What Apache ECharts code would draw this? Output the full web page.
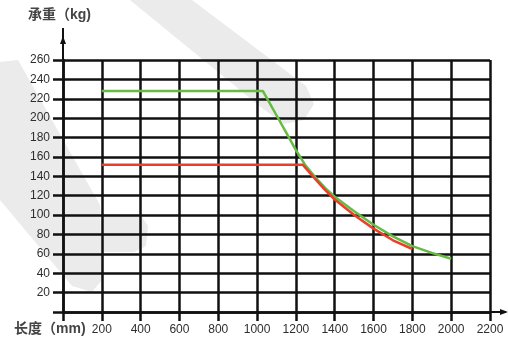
<!DOCTYPE html>
<html>
<head>
<meta charset="utf-8">
<script src="https://cdn.jsdelivr.net/npm/echarts@6/dist/echarts.min.js"></script>
<style>
  html, body { margin: 0; padding: 0; background: #ffffff; }
  #chart { width: 508px; height: 342px; }
</style>
</head>
<body>
<div id="chart"></div>
<script>
// Load capacity (kg) versus span length (mm) for two support variants
const lengthTicks = [0, 200, 400, 600, 800, 1000, 1200, 1400, 1600, 1800, 2000, 2200];
const loadTicks = [0, 20, 40, 60, 80, 100, 120, 140, 160, 180, 200, 220, 240, 260];

const greenLengths = [200, 1030, 1100, 1150, 1200, 1250, 1300, 1350, 1400, 1500, 1600, 1700, 1800, 1900, 2000];
const greenLoads   = [228, 228, 203, 185, 167, 151, 139, 128, 119, 104, 90, 78, 68, 61, 55];

const redLengths = [200, 1235, 1300, 1350, 1400, 1500, 1600, 1700, 1800];
const redLoads   = [152, 152, 137, 126, 116, 100, 86, 74, 65];

const axisTitleY = '承重（kg)';
const axisTitleX = '长度（mm)';

const ink = '#111111';
const textColor = '#2e2e2e';
const fontFamily = '"Liberation Sans", Arial, "Noto Sans CJK SC", sans-serif';

const pairs = (xs, ys) => xs.map((x, i) => [x, ys[i]]);

const chart = echarts.init(document.getElementById('chart'), null, { renderer: 'canvas' });

chart.setOption({
  animation: false,
  backgroundColor: '#ffffff',
  grid: { left: 63, right: 18, top: 60, bottom: 30, containLabel: false },
  xAxis: {
    type: 'value',
    min: lengthTicks[0],
    max: lengthTicks[lengthTicks.length - 1],
    interval: 200,
    z: 2,
    axisLine: { show: true, lineStyle: { color: ink, width: 2.5 } },
    axisTick: { show: true, length: 9, lineStyle: { color: ink, width: 2.5 } },
    axisLabel: {
      margin: 12,
      color: textColor,
      fontSize: 12,
      fontFamily,
      formatter: v => (v === 0 ? '' : String(v))
    },
    splitLine: { show: true, lineStyle: { color: ink, width: 2.5 } }
  },
  yAxis: {
    type: 'value',
    min: loadTicks[0],
    max: loadTicks[loadTicks.length - 1],
    interval: 20,
    z: 2,
    axisLine: { show: true, lineStyle: { color: ink, width: 2.5 } },
    axisTick: { show: true, length: 10, lineStyle: { color: ink, width: 2.5 } },
    axisLabel: {
      margin: 13,
      color: textColor,
      fontSize: 12,
      fontFamily,
      formatter: v => (v === 0 ? '' : String(v))
    },
    splitLine: { show: true, lineStyle: { color: ink, width: 2.5 } }
  },
  series: [
    {
      name: 'green',
      type: 'line',
      data: pairs(greenLengths, greenLoads),
      symbol: 'none',
      smooth: false,
      lineStyle: { color: '#66bb44', width: 2.5 },
      z: 3
    },
    {
      name: 'red',
      type: 'line',
      data: pairs(redLengths, redLoads),
      symbol: 'none',
      smooth: false,
      lineStyle: { color: '#e8402a', width: 2.5 },
      z: 4
    }
  ]
});

// Axis extensions with arrow heads and the axis titles, placed from the grid's own coordinates
const origin = chart.convertToPixel({ gridIndex: 0 }, [lengthTicks[0], loadTicks[0]]);
const xEnd = chart.convertToPixel({ gridIndex: 0 }, [lengthTicks[lengthTicks.length - 1], loadTicks[0]]);
const yEnd = chart.convertToPixel({ gridIndex: 0 }, [lengthTicks[0], loadTicks[loadTicks.length - 1]]);

// Faint logo backdrop behind the grid
const backdrop = '#ebebeb';

chart.setOption({
  graphic: [
    {
      type: 'polygon',
      silent: true,
      z: -10,
      shape: { points: [[130, 0], [192, 0], [306, 86], [314, 104], [304, 120], [284, 124], [262, 108]] },
      style: { fill: backdrop }
    },
    {
      type: 'polygon',
      silent: true,
      z: -10,
      shape: { points: [[0, 62], [18, 60], [100, 205], [102, 280], [92, 292], [72, 286], [0, 200]] },
      style: { fill: backdrop }
    },
    {
      type: 'polygon',
      silent: true,
      z: -10,
      shape: { points: [[102, 214], [140, 214], [148, 226], [146, 246], [134, 252], [102, 252]] },
      style: { fill: backdrop }
    },
    {
      type: 'line',
      shape: { x1: xEnd[0], y1: xEnd[1], x2: xEnd[0] + 16, y2: xEnd[1] },
      style: { stroke: ink, lineWidth: 2 },
      z: 10
    },
    {
      type: 'polygon',
      shape: { points: [[xEnd[0] + 18, xEnd[1]], [xEnd[0] + 10, xEnd[1] - 3], [xEnd[0] + 10, xEnd[1] + 3]] },
      style: { fill: ink },
      z: 10
    },
    {
      type: 'line',
      shape: { x1: origin[0], y1: yEnd[1], x2: origin[0], y2: yEnd[1] - 32 },
      style: { stroke: ink, lineWidth: 2 },
      z: 10
    },
    {
      type: 'polygon',
      shape: { points: [[origin[0], yEnd[1] - 24], [origin[0] - 3, yEnd[1] - 16], [origin[0] + 3, yEnd[1] - 16]] },
      style: { fill: ink },
      z: 10
    },
    {
      type: 'text',
      left: 28,
      top: 8,
      style: { text: axisTitleY, fill: '#444', font: 'bold 14px ' + fontFamily },
      z: 10
    },
    {
      type: 'text',
      left: 14,
      top: 322,
      style: { text: axisTitleX, fill: '#444', font: 'bold 14px ' + fontFamily },
      z: 10
    }
  ]
});
</script>
</body>
</html>
